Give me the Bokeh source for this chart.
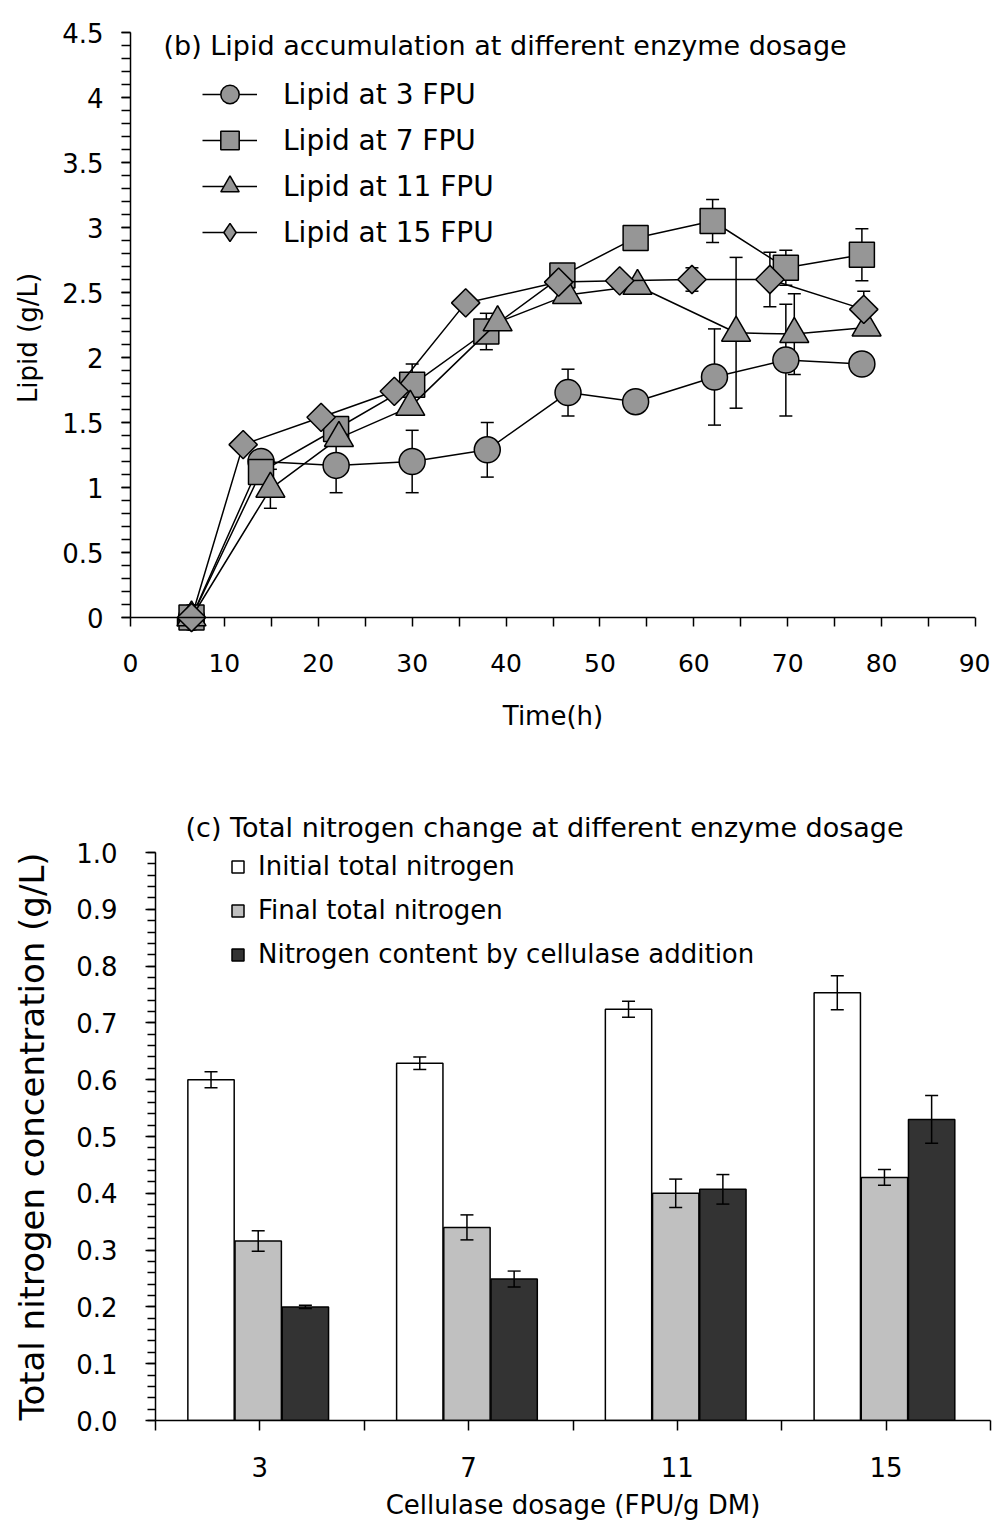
import numpy as np
from bokeh.plotting import figure
from bokeh.models import (ColumnDataSource, Whisker, TeeHead, Legend, LegendItem,
                          Label, FixedTicker, Range1d, Span)
from bokeh.embed import file_html
from bokeh.resources import INLINE

FONT = "DejaVu Sans"

# ---------------- panel (b) data ----------------
t3 = [6.5, 13.9, 21.9, 30.0, 38.0, 46.6, 53.8, 62.2, 69.8, 77.9]
lip3 = [0.0, 1.20, 1.17, 1.20, 1.29, 1.73, 1.66, 1.85, 1.98, 1.95]
err3 = [0, 0, 0.21, 0.24, 0.21, 0.18, 0, 0.37, 0.43, 0]

t7 = [6.5, 13.9, 21.9, 30.0, 37.9, 46.0, 53.8, 62.0, 69.8, 77.9]
lip7 = [0.0, 1.12, 1.45, 1.79, 2.20, 2.63, 2.92, 3.05, 2.69, 2.79]
err7 = [0, 0, 0, 0.16, 0.14, 0, 0, 0.165, 0.135, 0.2]

t11 = [6.5, 14.9, 22.2, 29.8, 39.1, 46.5, 54.0, 64.5, 70.7, 78.4]
lip11 = [0.0, 0.99, 1.38, 1.62, 2.27, 2.48, 2.55, 2.19, 2.18, 2.23]
err11 = [0, 0.15, 0, 0, 0, 0, 0, 0.58, 0.31, 0]

t15 = [6.5, 12.0, 20.3, 28.1, 35.7, 45.6, 52.1, 59.8, 68.1, 78.1]
lip15 = [0.0, 1.33, 1.54, 1.74, 2.42, 2.58, 2.59, 2.60, 2.60, 2.37]
err15 = [0, 0, 0, 0, 0, 0, 0, 0.09, 0.21, 0.14]

series_labels = ["Lipid at 3 FPU", "Lipid at 7 FPU", "Lipid at 11 FPU", "Lipid at 15 FPU"]
x_ticks_b = [0, 10, 20, 30, 40, 50, 60, 70, 80, 90]
y_ticks_b = [0, 0.5, 1, 1.5, 2, 2.5, 3, 3.5, 4, 4.5]
y_tick_labels_b = ["0", "0.5", "1", "1.5", "2", "2.5", "3", "3.5", "4", "4.5"]

# ---------------- panel (c) data ----------------
cats = ["3", "7", "11", "15"]
initial_n = [0.600, 0.629, 0.724, 0.753]
initial_err = [0.014, 0.011, 0.014, 0.030]
final_n = [0.316, 0.340, 0.400, 0.428]
final_err = [0.018, 0.022, 0.025, 0.014]
cell_n = [0.200, 0.249, 0.407, 0.530]
cell_err = [0.003, 0.014, 0.026, 0.042]
bar_labels = ["Initial total nitrogen", "Final total nitrogen",
              "Nitrogen content by cellulase addition"]

GRAY = "#969696"


def style_axis(ax, tick_size, label_size):
    ax.axis_line_color = "black"
    ax.axis_line_width = 1.5
    ax.major_tick_line_color = "black"
    ax.major_tick_line_width = 1.5
    ax.minor_tick_line_color = "black"
    ax.minor_tick_line_width = 1.5
    ax.major_tick_in = 0
    ax.minor_tick_in = 0
    ax.major_label_text_font = FONT
    ax.major_label_text_font_size = tick_size
    ax.major_label_text_color = "black"
    ax.axis_label_text_font = FONT
    ax.axis_label_text_font_size = label_size
    ax.axis_label_text_font_style = "normal"
    ax.axis_label_text_color = "black"


# ================= top figure =================
# y range starts a little below 0 so the markers at y = 0 are not clipped;
# the x axis line is drawn at y = 0 and its ticks hang from it.
Y0_PAD = 0.2
p1 = figure(width=990, height=768, output_backend="svg", toolbar_location=None,
            x_range=Range1d(0, 90), y_range=Range1d(-Y0_PAD, 4.5),
            min_border_left=130, min_border_right=15, min_border_top=32,
            min_border_bottom=125, x_axis_label="Time(h)", y_axis_label="Lipid (g/L)")
p1.xgrid.visible = False
p1.ygrid.visible = False
p1.outline_line_color = None

ax = p1.xaxis[0]
style_axis(ax, "25px", "26px")
ax.ticker = FixedTicker(ticks=x_ticks_b, minor_ticks=[v + 5 for v in x_ticks_b[:-1]])
ax.axis_line_color = None
ax.major_tick_in = 26
ax.major_tick_out = -17
ax.minor_tick_in = 26
ax.minor_tick_out = -17
ax.major_label_standoff = 27
ax.axis_label_standoff = 26
p1.add_layout(Span(location=0, dimension="width", line_color="black", line_width=1.5))

ay = p1.yaxis[0]
style_axis(ay, "26px", "26px")
ay.ticker = FixedTicker(ticks=y_ticks_b, minor_ticks=[round(i * 0.1, 1) for i in range(46)])
ay.major_label_overrides = {v: s for v, s in zip(y_ticks_b, y_tick_labels_b)}
ay.bounds = (0, 4.5)
ay.major_tick_out = 9
ay.minor_tick_out = 9
ay.major_label_standoff = 18
ay.axis_label_standoff = 16

series = [
    (t3, lip3, err3, "circle", 26, 0, "circle"),
    (t7, lip7, err7, "square", 25, 0, "square"),
    (t11, lip11, err11, "triangle", 29, 0, "triangle"),
    (t15, lip15, err15, "square", 20, np.pi / 4, "diamond"),
]
items = []
for (tt, yy, ee, mk, sz, ang, legmk), lab in zip(series, series_labels):
    wx = [t for t, e in zip(tt, ee) if e > 0]
    wu = [y + e for y, e in zip(yy, ee) if e > 0]
    wl = [y - e for y, e in zip(yy, ee) if e > 0]
    wsrc = ColumnDataSource(dict(x=wx, upper=wu, lower=wl))
    w = Whisker(source=wsrc, base="x", upper="upper", lower="lower",
                line_color="black", line_width=1.5, level="underlay",
                upper_head=TeeHead(size=13, line_color="black", line_width=1.5),
                lower_head=TeeHead(size=13, line_color="black", line_width=1.5))
    p1.add_layout(w)
    src = ColumnDataSource(dict(x=tt, y=yy))
    lr = p1.line("x", "y", source=src, line_color="black", line_width=1.5)
    key = None
    if legmk != mk:
        # legend key (legend keys ignore marker rotation); it sits fully
        # underneath the rotated-square markers drawn next
        key = p1.scatter("x", "y", source=src, marker=legmk, size=26,
                         fill_color=GRAY, line_color="black", line_width=1.5)
    sr = p1.scatter("x", "y", source=src, marker=mk, size=sz, angle=ang,
                    fill_color=GRAY, line_color="black", line_width=1.5)
    items.append(LegendItem(label=lab, renderers=[lr, key if key is not None else sr]))

leg1 = Legend(items=items, location=(72, 388), orientation="vertical",
              glyph_width=55, glyph_height=46, label_height=46, spacing=0,
              padding=0, margin=0, label_standoff=26,
              label_text_font=FONT, label_text_font_size="28px",
              label_text_color="black",
              border_line_color=None, background_fill_alpha=0)
p1.add_layout(leg1, "center")
p1.add_layout(Label(x=33, y=598, x_units="screen", y_units="screen",
                    text="(b) Lipid accumulation at different enzyme dosage",
                    text_font=FONT, text_font_size="27px", text_baseline="middle",
                    text_color="black"))

# ================= bottom figure =================
p2 = figure(width=993, height=756, output_backend="svg", toolbar_location=None,
            x_range=Range1d(0, 4), y_range=Range1d(0, 1.0),
            min_border_left=155, min_border_right=3, min_border_top=84,
            min_border_bottom=104, x_axis_label="Cellulase dosage (FPU/g DM)",
            y_axis_label="Total nitrogen concentration (g/L)")
p2.xgrid.visible = False
p2.ygrid.visible = False
p2.outline_line_color = None
style_axis(p2.xaxis[0], "26px", "26px")
style_axis(p2.yaxis[0], "26px", "34px")
p2.title.text = "(c) Total nitrogen change at different enzyme dosage"
p2.title.text_font = FONT
p2.title.text_font_size = "27px"
p2.title.text_font_style = "normal"
p2.title.text_color = "black"
p2.title.align = "left"
p2.title.offset = 30
p2.title.standoff = 19

centers = [i + 0.5 for i in range(len(cats))]
p2.xaxis.ticker = FixedTicker(ticks=centers, minor_ticks=list(range(len(cats) + 1)))
p2.xaxis.major_label_overrides = {c: lab for c, lab in zip(centers, cats)}
p2.xaxis.major_tick_out = 10
p2.xaxis.minor_tick_out = 10
p2.xaxis.major_label_standoff = 26
p2.xaxis.axis_label_standoff = 10
p2.yaxis.ticker = FixedTicker(ticks=[round(i * 0.1, 1) for i in range(11)],
                              minor_ticks=[round(i * 0.02, 2) for i in range(51)])
p2.yaxis.major_label_overrides = {round(i * 0.1, 1): f"{i * 0.1:.1f}" for i in range(11)}
p2.yaxis.major_tick_out = 10
p2.yaxis.minor_tick_out = 8
p2.yaxis.major_label_standoff = 28
p2.yaxis.axis_label_standoff = 21

bw = 0.222
offsets = [-0.226, 0.0, 0.226]
fills = ["white", "#c0c0c0", "#333333"]
bar_items = []
for vals, errs, off, fc, lab in zip([initial_n, final_n, cell_n],
                                    [initial_err, final_err, cell_err],
                                    offsets, fills, bar_labels):
    xs = [c + off - 0.008 for c in centers]
    src = ColumnDataSource(dict(x=xs, top=vals,
                                upper=[v + e for v, e in zip(vals, errs)],
                                lower=[v - e for v, e in zip(vals, errs)]))
    r = p2.vbar(x="x", top="top", bottom=0, width=bw, source=src,
                fill_color=fc, line_color="black", line_width=1.5)
    p2.add_layout(Whisker(source=src, base="x", upper="upper", lower="lower",
                          line_color="black", line_width=1.5, level="overlay",
                          upper_head=TeeHead(size=13, line_color="black", line_width=1.5),
                          lower_head=TeeHead(size=13, line_color="black", line_width=1.5)))
    bar_items.append(LegendItem(label=lab, renderers=[r]))

leg2 = Legend(items=bar_items, location=(75, 451), orientation="vertical",
              glyph_width=15, glyph_height=15, label_height=15, spacing=14,
              padding=0, margin=0, label_standoff=13,
              label_text_font=FONT, label_text_font_size="26px",
              label_text_color="black",
              border_line_color=None, background_fill_alpha=0)
p2.add_layout(leg2, "center")

open("out.html", "w").write(file_html((p1, p2), INLINE))
